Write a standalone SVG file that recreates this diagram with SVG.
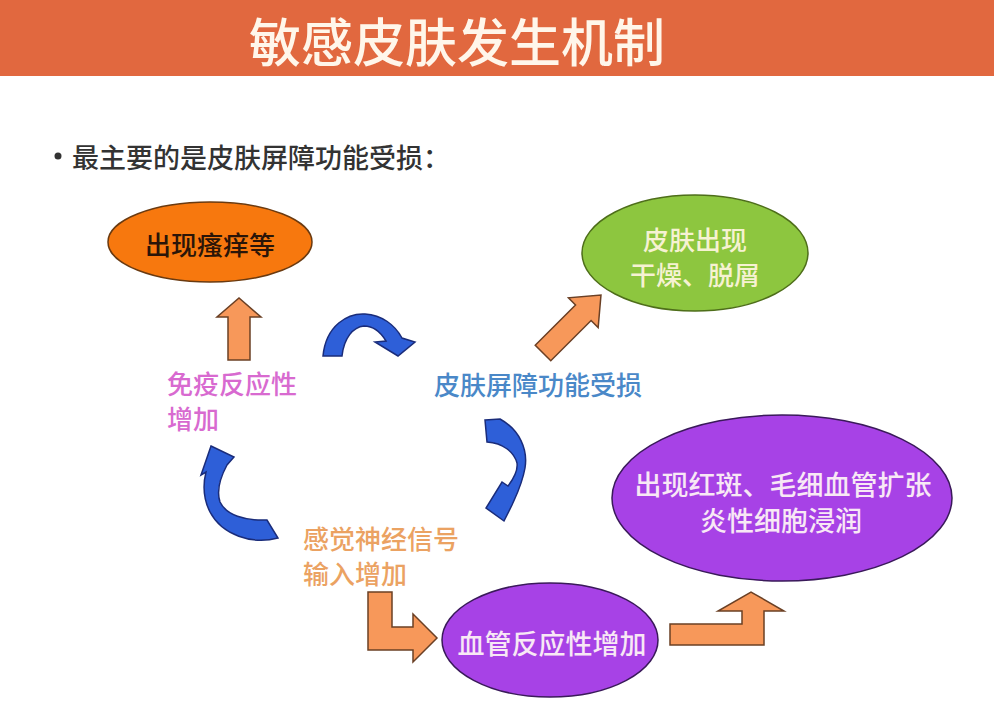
<svg xmlns="http://www.w3.org/2000/svg" width="994" height="720" viewBox="0 0 994 720">
<style>
text{font-family:"Noto Sans CJK SC","Noto Sans",sans-serif;text-anchor:middle;dominant-baseline:central;font-weight:500}
.oa{fill:#F7985A;stroke:#6B4025;stroke-width:1.5;stroke-linejoin:miter}
.ba{fill:#2E5FD8;stroke:#1A2C7A;stroke-width:1.5}
.lbl{font-size:26px}
</style>
<rect x="0" y="0" width="994" height="720" fill="#FFFFFF"/>
<g id="title">
<rect x="0" y="0" width="994" height="76" fill="#E1683F"/>
<text x="457" y="39" font-size="52" font-weight="normal" fill="#FFF6EA">敏感皮肤发生机制</text>
</g>
<g id="bullet">
<circle cx="58" cy="156" r="3.5" fill="#333"/>
<text x="72" y="156" font-size="27" fill="#333" style="text-anchor:start">最主要的是皮肤屏障功能受损：</text>
</g>
<g id="itch">
<ellipse cx="210" cy="242" rx="102" ry="40" fill="#F7780E" stroke="#6A3A10" stroke-width="1.5"/>
<text x="210" y="243" font-size="26" font-weight="bold" fill="#2A1508">出现瘙痒等</text>
</g>
<g id="dry">
<ellipse cx="695" cy="253" rx="113" ry="58" fill="#8DC63F" stroke="#4E6E1A" stroke-width="1.5"/>
<text x="695" y="238" font-size="26" fill="#F6F2D2">皮肤出现</text>
<text x="695" y="273" font-size="26" fill="#F6F2D2">干燥、脱屑</text>
</g>
<g id="barrier">
<text x="538" y="383" class="lbl" fill="#4A88C8">皮肤屏障功能受损</text>
</g>
<g id="immune">
<text x="167" y="382" class="lbl" fill="#D86AD0" style="text-anchor:start">免疫反应性</text>
<text x="167" y="417" class="lbl" fill="#D86AD0" style="text-anchor:start">增加</text>
</g>
<g id="nerve">
<text x="303" y="537" class="lbl" fill="#EBA262" style="text-anchor:start">感觉神经信号</text>
<text x="303" y="572" class="lbl" fill="#EBA262" style="text-anchor:start">输入增加</text>
</g>
<g id="vascular">
<ellipse cx="550" cy="640" rx="108" ry="57" fill="#A742E6" stroke="#3A1A5A" stroke-width="1.5"/>
<text x="552" y="642" font-size="27" fill="#F8E8F5">血管反应性增加</text>
</g>
<g id="erythema">
<ellipse cx="782" cy="498" rx="170" ry="83" fill="#A742E6" stroke="#3A1A5A" stroke-width="1.5"/>
<text x="783" y="483" font-size="27" fill="#F8E8F5">出现红斑、毛细血管扩张</text>
<text x="781" y="519" font-size="27" fill="#F8E8F5">炎性细胞浸润</text>
</g>
<g id="connectors">
<path class="oa" d="M228 360 L228 317 L217 317 L239 298 L261 317 L250 317 L250 360 Z"/>
<path class="oa" transform="translate(543 353) rotate(-45)" d="M0 -11 L57 -11 L57 -21 L82 0 L57 21 L57 11 L0 11 Z"/>
<path class="oa" d="M368 592 L392 592 L392 627 L413 627 L413 614 L437 638 L413 662 L413 650 L368 650 Z"/>
<path class="oa" d="M670 624 L742 624 L742 611 L718 611 L751 592 L784 611 L764 611 L764 645 L670 645 Z"/>
<path class="ba" d="M323 356 C326 325 348 313 365 314 C382 315 395 325 402 338 L415 342 L398 356 L375 342 L386 341 C380 331 372 326 364 326 C353 327 344 338 342 356 Z"/>
<path class="ba" d="M485 420 L500 419 C520 430 528 450 525 468 C522 485 515 498 512 505 L504 521 L486 508 L502 482 L508 486 C514 478 518 470 517 463 C514 452 503 443 487 442 Z"/>
<path class="ba" d="M211 446 L234 457 L227 465 C220 478 216 490 220 502 C226 515 245 521 267 520 L278 538 C252 545 222 535 210 512 C203 498 203 484 206 472 L201 475 Z"/>
</g>
</svg>
